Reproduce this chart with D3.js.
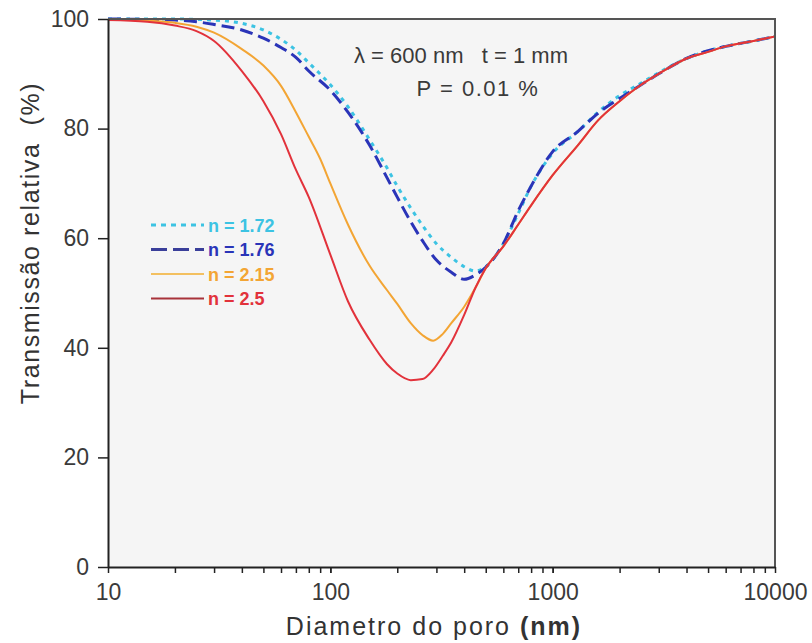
<!DOCTYPE html>
<html>
<head>
<meta charset="utf-8">
<script src="https://cdn.jsdelivr.net/npm/d3@7"></script>
<style>
  body { margin: 0; background: #ffffff; }
  svg text { font-family: "Liberation Sans", Arial, sans-serif; }
</style>
</head>
<body>
<svg id="chart" width="812" height="643"></svg>
<script>
// Pore diameter (nm) and relative transmission (%) for each refractive index
const diam172 = [10, 20, 30, 40, 50, 60, 70, 80, 100, 120, 150, 180, 200, 230, 260, 300, 350, 400, 450, 500, 600, 700, 800, 1000, 1300, 1600, 2000, 2500, 3000, 4000, 5000, 6000, 8000, 10000];
const trans172 = [100, 100, 99.8, 99.2, 98, 96.3, 94.3, 92, 88, 84, 78, 72.8, 69.5, 65.5, 62.3, 59, 56.5, 54.8, 54, 54.8, 59, 64.5, 69.5, 75.5, 79.5, 83, 86, 88.3, 90.2, 92.8, 94.2, 95, 96, 96.8];

const diam176 = [10, 20, 25, 30, 40, 50, 60, 70, 80, 100, 120, 150, 180, 200, 230, 260, 300, 350, 400, 450, 500, 600, 700, 800, 1000, 1300, 1600, 2000, 2500, 3000, 4000, 5000, 6000, 8000, 10000];
const trans176 = [100, 99.8, 99.5, 99.0, 98.0, 96.5, 94.8, 93, 90.5, 87, 83, 77, 71, 67.5, 63, 59.5, 56, 53.8, 52.5, 53.3, 54.7, 59, 65, 69.5, 75.8, 79.5, 82.8, 85.5, 88, 90, 92.8, 94.2, 95, 96, 96.8];

const diam215 = [10, 15, 20, 25, 30, 40, 50, 60, 70, 80, 90, 100, 120, 150, 180, 200, 230, 260, 290, 320, 350, 400, 450, 500, 600, 700, 800, 1000, 1300, 1600, 2000, 2500, 3000, 4000, 5000, 6000, 8000, 10000];
const trans215 = [99.9, 99.7, 99.3, 98.6, 97.5, 94.5, 91.5, 87.8, 83, 78.5, 74.5, 70, 62.5, 55, 50.5, 48, 44.5, 42.3, 41.3, 42.5, 44.5, 47.5, 51, 54.5, 58.5, 62.5, 66, 71.5, 77, 81.5, 85, 88, 90, 92.8, 94, 95, 96, 96.8];

const diam25 = [10, 15, 20, 25, 30, 40, 50, 60, 70, 80, 100, 120, 150, 180, 200, 230, 260, 290, 320, 350, 400, 450, 500, 600, 700, 800, 1000, 1300, 1600, 2000, 2500, 3000, 4000, 5000, 6000, 8000, 10000];
const trans25 = [99.8, 99.5, 98.8, 97.8, 96.0, 90.5, 85, 79, 72.5, 67.5, 57, 48.5, 41.5, 37, 35.3, 34.1, 34.3, 36.0, 38.5, 41, 46, 51, 54.5, 58.5, 62.5, 66, 71.5, 77, 81.5, 85, 88, 90, 92.8, 94, 95, 96, 96.8];

const seriesNames = ["n = 1.72", "n = 1.76", "n = 2.15", "n = 2.5"];
const seriesColors = ["#3cc3e3", "#2a34b8", "#f3a534", "#e2323b"];
const legendLineColors = ["#3cc3e3", "#3a3f9a", "#f3c060", "#a8333a"];

const xTickValues = [10, 100, 1000, 10000];
const yTickValues = [0, 20, 40, 60, 80, 100];

const series = [
  { name: seriesNames[0], d: diam172, t: trans172, color: seriesColors[0], width: 3, dash: "4,5" },
  { name: seriesNames[1], d: diam176, t: trans176, color: seriesColors[1], width: 3, dash: "13,6" },
  { name: seriesNames[2], d: diam215, t: trans215, color: seriesColors[2], width: 2, dash: null },
  { name: seriesNames[3], d: diam25, t: trans25, color: seriesColors[3], width: 2, dash: null }
];

const svg = d3.select("#chart");
const plotLeft = 108, plotRight = 775, plotTop = 19, plotBottom = 567;

const x = d3.scaleLog().domain([10, 10000]).range([plotLeft, plotRight]);
const y = d3.scaleLinear().domain([0, 100]).range([plotBottom, plotTop]);

// plot background
svg.append("rect").attr("x", plotLeft).attr("y", plotTop)
  .attr("width", plotRight - plotLeft).attr("height", plotBottom - plotTop)
  .attr("fill", "#f5f5f5");

const lineGen = d3.line()
  .x(p => x(p[0])).y(p => y(p[1]))
  .curve(d3.curveMonotoneX);

svg.append("clipPath").attr("id", "plotclip")
  .append("rect").attr("x", plotLeft).attr("y", plotTop - 3)
  .attr("width", plotRight - plotLeft).attr("height", plotBottom - plotTop + 3);

const plot = svg.append("g").attr("clip-path", "url(#plotclip)");
series.forEach(s => {
  plot.append("path")
    .datum(s.d.map((v, i) => [v, s.t[i]]))
    .attr("d", lineGen)
    .attr("fill", "none")
    .attr("stroke", s.color)
    .attr("stroke-width", s.width)
    .attr("stroke-dasharray", s.dash)
    .attr("stroke-linejoin", "round");
});

// top and right border
svg.append("path")
  .attr("d", `M${plotLeft},${plotTop}H${plotRight}V${plotBottom}`)
  .attr("fill", "none").attr("stroke", "#555").attr("stroke-width", 2);

// x axis with minor ticks
const minorTicks = [];
for (let dec = 10; dec < 10000; dec *= 10) {
  for (let k = 1; k <= 10; k++) minorTicks.push(dec * k);
}
const xAxis = svg.append("g").attr("transform", `translate(0,${plotBottom})`);
xAxis.call(d3.axisBottom(x).tickValues(minorTicks).tickSize(6).tickSizeOuter(0).tickFormat(""));
xAxis.select(".domain").attr("stroke", "#222").attr("stroke-width", 2);
xAxis.selectAll(".tick line").attr("stroke", "#222").attr("stroke-width", 1.5);
const xLabels = svg.append("g").attr("transform", `translate(0,${plotBottom})`);
xLabels.call(d3.axisBottom(x).tickValues(xTickValues).tickSize(0).tickPadding(17).tickFormat(d3.format("d")));
xLabels.select(".domain").remove();
xLabels.selectAll("text").attr("font-size", 23).attr("fill", "#3a3a3a")
  .attr("font-family", "Liberation Sans, Arial, sans-serif");

// y axis
const yAxis = svg.append("g").attr("transform", `translate(${plotLeft},0)`);
yAxis.call(d3.axisLeft(y).tickValues(yTickValues).tickSize(10).tickPadding(9).tickSizeOuter(0));
yAxis.select(".domain").attr("stroke", "#222").attr("stroke-width", 2);
yAxis.selectAll(".tick line").attr("stroke", "#222").attr("stroke-width", 1.5);
yAxis.selectAll("text").attr("font-size", 23).attr("fill", "#3a3a3a")
  .attr("font-family", "Liberation Sans, Arial, sans-serif");

// axis titles
const xTitle = svg.append("text").attr("x", 434).attr("y", 635)
  .attr("text-anchor", "middle").attr("font-size", 25).attr("fill", "#333")
  .attr("letter-spacing", 2);
xTitle.append("tspan").text("Diametro do poro ");
xTitle.append("tspan").attr("font-weight", "bold").text("(nm)");

svg.append("text")
  .attr("transform", "translate(39,243) rotate(-90)")
  .attr("text-anchor", "middle").attr("font-size", 25).attr("fill", "#333")
  .attr("letter-spacing", 1.6)
  .attr("xml:space", "preserve")
  .text("Transmissão relativa  (%)");

// annotation
svg.append("text").attr("x", 461).attr("y", 63).attr("text-anchor", "middle")
  .attr("font-size", 22).attr("fill", "#3a3a3a").attr("xml:space", "preserve")
  .text("λ = 600 nm   t = 1 mm");
svg.append("text").attr("x", 478).attr("y", 96).attr("text-anchor", "middle")
  .attr("font-size", 22).attr("fill", "#3a3a3a").attr("letter-spacing", 1.5)
  .text("P = 0.01 %");

// legend
const legend = svg.append("g");
series.forEach((s, i) => {
  const ly = 225 + i * 24.5;
  legend.append("line")
    .attr("x1", 151).attr("x2", 204).attr("y1", ly).attr("y2", ly)
    .attr("stroke", legendLineColors[i])
    .attr("stroke-width", s.dash ? 3 : 2)
    .attr("stroke-dasharray", i === 0 ? "5,5" : (i === 1 ? "16,6" : null));
  legend.append("text")
    .attr("x", 208).attr("y", ly + 6.5)
    .attr("font-size", 18).attr("font-weight", "bold")
    .attr("fill", s.color)
    .text(s.name);
});
</script>
</body>
</html>
